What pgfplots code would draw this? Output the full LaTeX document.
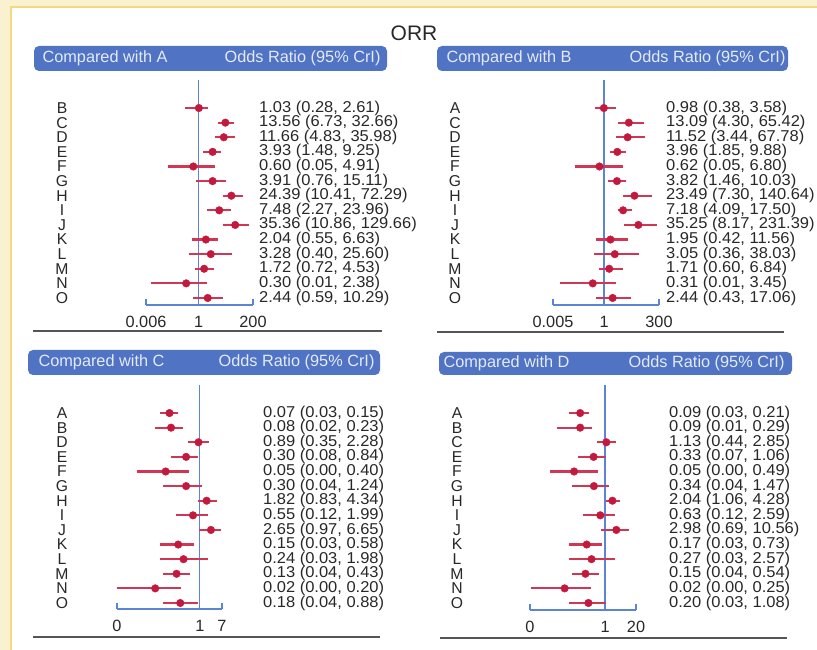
\documentclass[border=0pt]{standalone}
\usepackage{fontspec}
\setmainfont{Liberation Sans}
\newfontfamily\rowff[FakeStretch=1.05]{Liberation Sans}
\usepackage{pgfplots}
\usepackage{pgfplotstable}
\pgfplotsset{compat=1.18}
\definecolor{cream}{RGB}{250,241,208}
\definecolor{gold}{RGB}{245,218,125}
\definecolor{hdrblue}{RGB}{80,115,195}
\definecolor{hdrtxt}{RGB}{228,234,247}
\definecolor{axblue}{RGB}{92,132,212}
\definecolor{dotred}{RGB}{195,25,60}
\definecolor{whisk}{RGB}{208,55,85}
\definecolor{txt}{RGB}{40,40,40}
\definecolor{sepgray}{RGB}{85,85,85}
\newcommand\rowfont{\rowff\fontsize{15.7}{15.7}\selectfont}
\newcommand\letfont{\fontsize{15.7}{15.7}\selectfont}
\newcommand\hfont{\fontsize{16.3}{16.3}\selectfont}

\pgfplotstableread{
y est lo hi name lab
14 1.03 0.28 2.61 B {1.03 (0.28, 2.61)}
13 13.56 6.73 32.66 C {13.56 (6.73, 32.66)}
12 11.66 4.83 35.98 D {11.66 (4.83, 35.98)}
11 3.93 1.48 9.25 E {3.93 (1.48, 9.25)}
10 0.60 0.05 4.91 F {0.60 (0.05, 4.91)}
9 3.91 0.76 15.11 G {3.91 (0.76, 15.11)}
8 24.39 10.41 72.29 H {24.39 (10.41, 72.29)}
7 7.48 2.27 23.96 I {7.48 (2.27, 23.96)}
6 35.36 10.86 129.66 J {35.36 (10.86, 129.66)}
5 2.04 0.55 6.63 K {2.04 (0.55, 6.63)}
4 3.28 0.40 25.60 L {3.28 (0.40, 25.60)}
3 1.72 0.72 4.53 M {1.72 (0.72, 4.53)}
2 0.30 0.01 2.38 N {0.30 (0.01, 2.38)}
1 2.44 0.59 10.29 O {2.44 (0.59, 10.29)}
}\tabA

\pgfplotstableread{
y est lo hi name lab
14 0.98 0.38 3.58 A {0.98 (0.38, 3.58)}
13 13.09 4.30 65.42 C {13.09 (4.30, 65.42)}
12 11.52 3.44 67.78 D {11.52 (3.44, 67.78)}
11 3.96 1.85 9.88 E {3.96 (1.85, 9.88)}
10 0.62 0.05 6.80 F {0.62 (0.05, 6.80)}
9 3.82 1.46 10.03 G {3.82 (1.46, 10.03)}
8 23.49 7.30 140.64 H {23.49 (7.30, 140.64)}
7 7.18 4.09 17.50 I {7.18 (4.09, 17.50)}
6 35.25 8.17 231.39 J {35.25 (8.17, 231.39)}
5 1.95 0.42 11.56 K {1.95 (0.42, 11.56)}
4 3.05 0.36 38.03 L {3.05 (0.36, 38.03)}
3 1.71 0.60 6.84 M {1.71 (0.60, 6.84)}
2 0.31 0.01 3.45 N {0.31 (0.01, 3.45)}
1 2.44 0.43 17.06 O {2.44 (0.43, 17.06)}
}\tabB

\pgfplotstableread{
y est lo hi name lab
14 0.07 0.03 0.15 A {0.07 (0.03, 0.15)}
13 0.08 0.02 0.23 B {0.08 (0.02, 0.23)}
12 0.89 0.35 2.28 D {0.89 (0.35, 2.28)}
11 0.30 0.08 0.84 E {0.30 (0.08, 0.84)}
10 0.05 0.004 0.40 F {0.05 (0.00, 0.40)}
9 0.30 0.04 1.24 G {0.30 (0.04, 1.24)}
8 1.82 0.83 4.34 H {1.82 (0.83, 4.34)}
7 0.55 0.12 1.99 I {0.55 (0.12, 1.99)}
6 2.65 0.97 6.65 J {2.65 (0.97, 6.65)}
5 0.15 0.03 0.58 K {0.15 (0.03, 0.58)}
4 0.24 0.03 1.98 L {0.24 (0.03, 1.98)}
3 0.13 0.04 0.43 M {0.13 (0.04, 0.43)}
2 0.02 0.0007 0.20 N {0.02 (0.00, 0.20)}
1 0.18 0.04 0.88 O {0.18 (0.04, 0.88)}
}\tabC

\pgfplotstableread{
y est lo hi name lab
14 0.09 0.03 0.21 A {0.09 (0.03, 0.21)}
13 0.09 0.01 0.29 B {0.09 (0.01, 0.29)}
12 1.13 0.44 2.85 C {1.13 (0.44, 2.85)}
11 0.33 0.07 1.06 E {0.33 (0.07, 1.06)}
10 0.05 0.005 0.49 F {0.05 (0.00, 0.49)}
9 0.34 0.04 1.47 G {0.34 (0.04, 1.47)}
8 2.04 1.06 4.28 H {2.04 (1.06, 4.28)}
7 0.63 0.12 2.59 I {0.63 (0.12, 2.59)}
6 2.98 0.69 10.56 J {2.98 (0.69, 10.56)}
5 0.17 0.03 0.73 K {0.17 (0.03, 0.73)}
4 0.27 0.03 2.57 L {0.27 (0.03, 2.57)}
3 0.15 0.04 0.54 M {0.15 (0.04, 0.54)}
2 0.02 0.0008 0.25 N {0.02 (0.00, 0.25)}
1 0.20 0.03 1.08 O {0.20 (0.03, 1.08)}
}\tabD

\pgfplotsset{
  scale only axis,
  axis x line*=bottom, axis y line=none,
  x axis line style={draw=axblue, line width=1.2pt, -},
  xtick style={draw=axblue, line width=1.2pt},
  xtick align=inside, major tick length=6pt,
  ytick=\empty, clip=false, enlargelimits=false,
  xticklabel style={font=\fontsize{16.3}{16.3}\selectfont, text=txt, yshift=-8pt},
  fpci/.style={only marks, mark=*, mark size=3.8pt,
    mark options={fill=dotred, draw=dotred},
    error bars/x dir=both, error bars/x explicit,
    error bars/error bar style={line width=2.2pt, color=whisk},
    error bars/error mark=none},
  fptxt/.style={only marks, mark=*, mark size=0pt,
    mark options={draw=none, fill=none},
    nodes near coords, point meta=explicit symbolic,
    every node near coord/.append style={anchor=west, inner sep=0pt,
      xshift=#1, font=\rowfont, text=txt}},
  fplet/.style={only marks, mark=*, mark size=0pt,
    mark options={draw=none, fill=none},
    nodes near coords, point meta=explicit symbolic,
    every node near coord/.append style={anchor=center, inner sep=0pt,
      xshift=#1, font=\letfont, text=txt}},
}

\begin{document}
\begin{tikzpicture}[x=1pt,y=1pt]
\useasboundingbox (0,0) rectangle (817,650);
\fill[cream] (0,0) rectangle (817,650);
\fill[white] (11,0) rectangle (817,643);
\draw[gold, line width=1.5pt] (11,0) -- (11,643) -- (817,643);

\node[font=\fontsize{21}{21}\selectfont, text=txt] at (414,617) {ORR};

% headers
\fill[hdrblue, rounded corners=5pt] (34,579) rectangle (387,604);
\node[anchor=west, font=\hfont, text=hdrtxt] at (39,591.5) {Compared with A};
\node[anchor=east, font=\hfont, text=hdrtxt] at (384,591.5) {Odds Ratio (95\% CrI)};
\fill[hdrblue, rounded corners=5pt] (437,579) rectangle (788,604);
\node[anchor=west, font=\hfont, text=hdrtxt] at (443,591.5) {Compared with B};
\node[anchor=east, font=\hfont, text=hdrtxt] at (789,591.5) {Odds Ratio (95\% CrI)};
\fill[hdrblue, rounded corners=5pt] (28,275) rectangle (380,300);
\node[anchor=west, font=\hfont, text=hdrtxt] at (35,287.5) {Compared with C};
\node[anchor=east, font=\hfont, text=hdrtxt] at (378,287.5) {Odds Ratio (95\% CrI)};
\fill[hdrblue, rounded corners=5pt] (439,275) rectangle (792,298);
\node[anchor=west, font=\hfont, text=hdrtxt] at (440,286.5) {Compared with D};
\node[anchor=east, font=\hfont, text=hdrtxt] at (788,286.5) {Odds Ratio (95\% CrI)};

% separators
\draw[sepgray, line width=2.5pt] (33,319) -- (382,319);
\draw[sepgray, line width=2.5pt] (437,318) -- (784,318);
\draw[sepgray, line width=2.5pt] (33,13) -- (380,13);
\draw[sepgray, line width=2.5pt] (440,12) -- (787,12);

% Panel A
\begin{semilogxaxis}[at={(146pt,345pt)}, anchor=south west,
  width=107pt, height=225pt, xmin=0.006, xmax=200, ymin=0.52, ymax=15.92,
  xtick={0.006,1,200}, xticklabels={0.006,1,200}]
\addplot[axblue, line width=1.2pt] coordinates {(1,0.52) (1,15.92)};
\addplot[fpci] table[x=est, y=y, x error plus expr=\thisrow{hi}-\thisrow{est}, x error minus expr=\thisrow{est}-\thisrow{lo}] {\tabA};
\addplot[fptxt=6pt] table[x expr=200, y=y, meta=lab] {\tabA};
\addplot[fplet=-84pt] table[x expr=0.006, y=y, meta=name] {\tabA};
\end{semilogxaxis}

% Panel B
\begin{semilogxaxis}[at={(553pt,345pt)}, anchor=south west,
  width=106pt, height=225pt, xmin=0.005, xmax=300, ymin=0.52, ymax=15.92,
  xtick={0.005,1,300}, xticklabels={0.005,1,300}]
\addplot[axblue, line width=1.2pt] coordinates {(1,0.52) (1,15.92)};
\addplot[fpci] table[x=est, y=y, x error plus expr=\thisrow{hi}-\thisrow{est}, x error minus expr=\thisrow{est}-\thisrow{lo}] {\tabB};
\addplot[fptxt=7pt] table[x expr=300, y=y, meta=lab] {\tabB};
\addplot[fplet=-98pt] table[x expr=0.005, y=y, meta=name] {\tabB};
\end{semilogxaxis}

% Panel C
\begin{semilogxaxis}[at={(117pt,41pt)}, anchor=south west,
  width=105pt, height=224pt, xmin=0.0007, xmax=7, ymin=0.59, ymax=15.92,
  xtick={0.0007,1,7}, xticklabels={0,1,7}]
\addplot[axblue, line width=1.2pt] coordinates {(1,0.59) (1,15.92)};
\addplot[fpci] table[x=est, y=y, x error plus expr=\thisrow{hi}-\thisrow{est}, x error minus expr=\thisrow{est}-\thisrow{lo}] {\tabC};
\addplot[fptxt=41pt] table[x expr=7, y=y, meta=lab] {\tabC};
\addplot[fplet=-55pt] table[x expr=0.0007, y=y, meta=name] {\tabC};
\end{semilogxaxis}

% Panel D
\begin{semilogxaxis}[at={(530pt,40pt)}, anchor=south west,
  width=106pt, height=225pt, xmin=0.0007, xmax=20, ymin=0.52, ymax=15.92,
  xtick={0.0007,1,20}, xticklabels={0,1,20}]
\addplot[axblue, line width=1.2pt] coordinates {(1,0.52) (1,15.92)};
\addplot[fpci] table[x=est, y=y, x error plus expr=\thisrow{hi}-\thisrow{est}, x error minus expr=\thisrow{est}-\thisrow{lo}] {\tabD};
\addplot[fptxt=33pt] table[x expr=20, y=y, meta=lab] {\tabD};
\addplot[fplet=-73pt] table[x expr=0.0007, y=y, meta=name] {\tabD};
\end{semilogxaxis}
\end{tikzpicture}
\end{document}
